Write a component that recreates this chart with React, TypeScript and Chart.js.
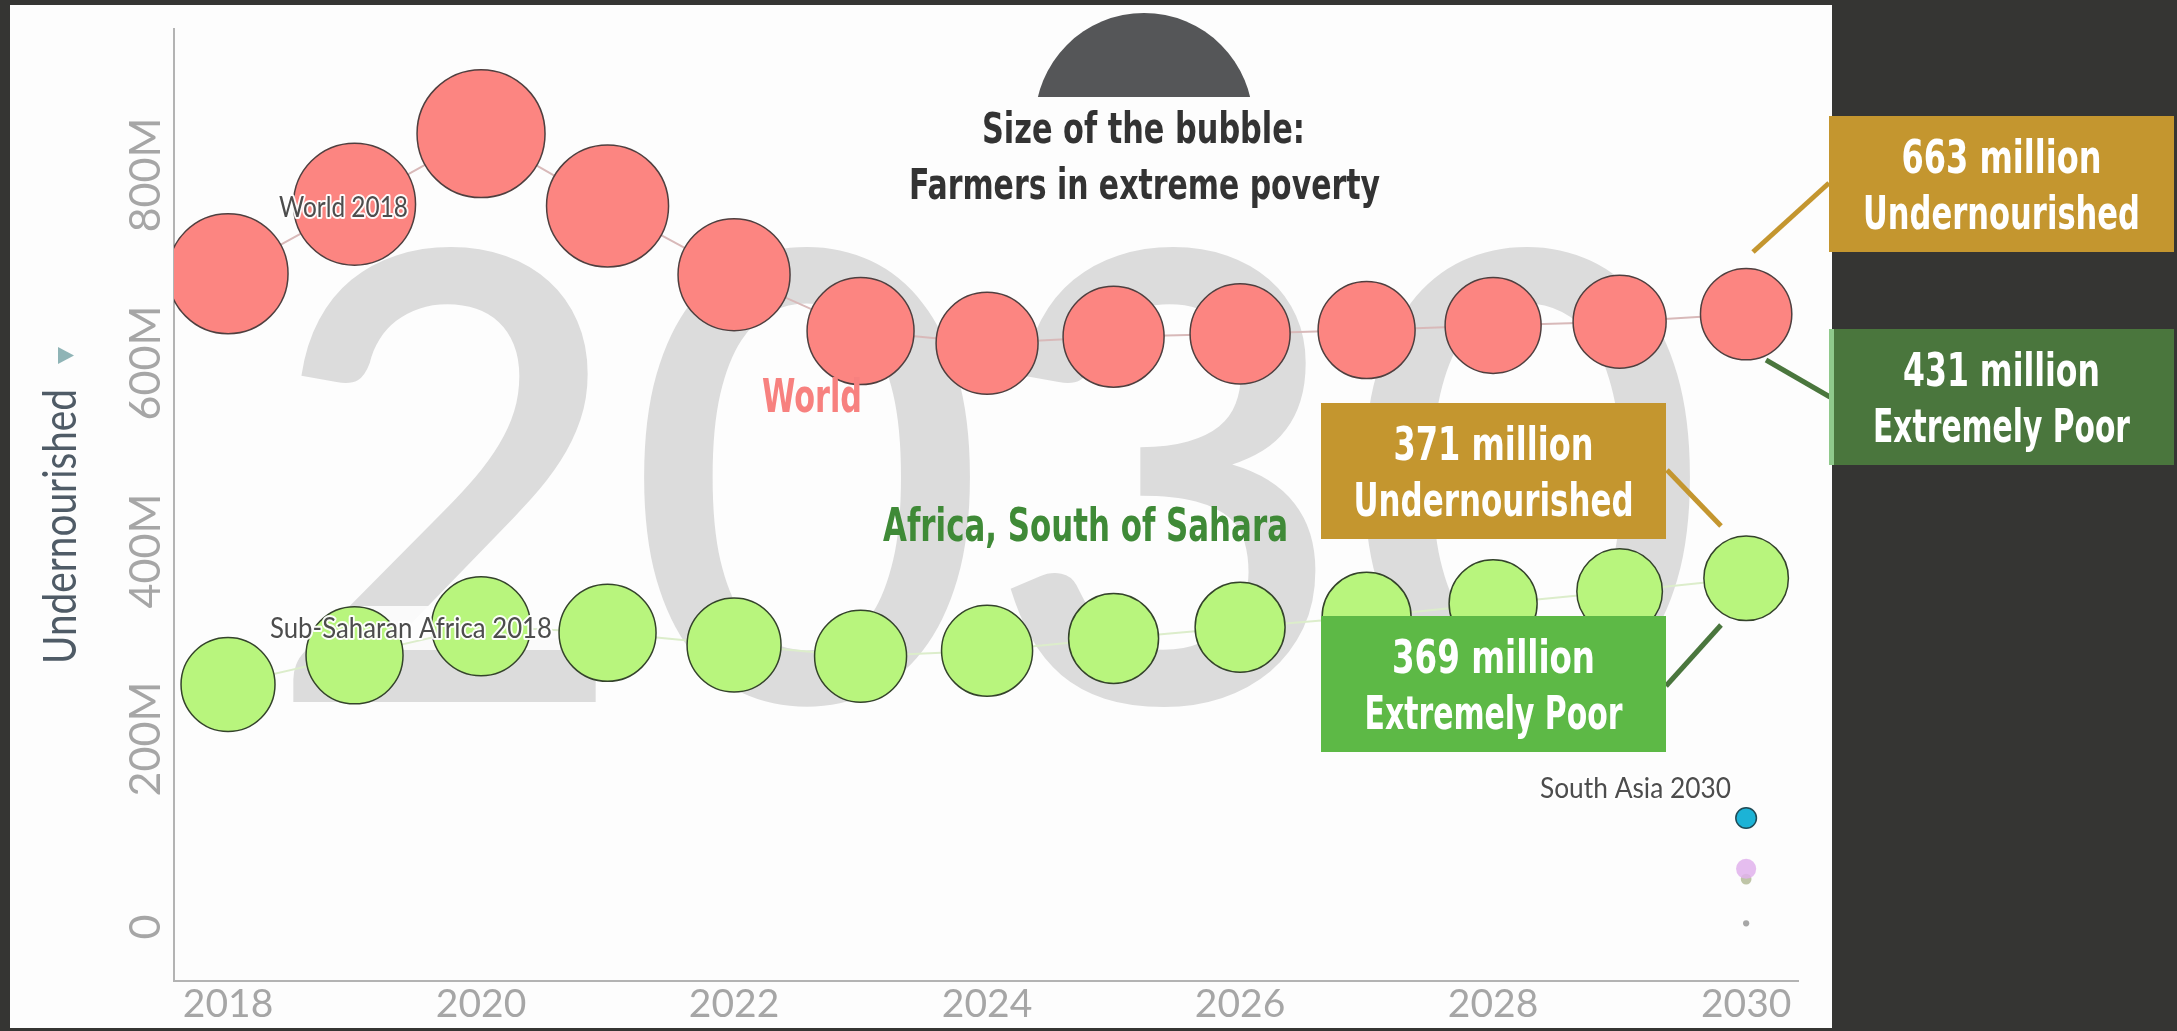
import React, { useEffect, useRef } from 'react';
import { Chart, registerables } from 'chart.js';

Chart.register(...registerables);

// ---------------- DATA ----------------
const YEARS = [2018, 2019, 2020, 2021, 2022, 2023, 2024, 2025, 2026, 2027, 2028, 2029, 2030];
// Undernourished people (millions) – y axis
const WORLD_UNDERNOURISHED_M = [695, 769, 844, 767, 694, 634, 621, 628, 631, 635, 640, 644, 652];
const AFRICA_UNDERNOURISHED_M = [258, 289, 320, 313, 300, 288, 294, 307, 319, 330, 344, 357, 371];
// Farmers in extreme poverty (millions) – bubble size
const WORLD_POVERTY_M = [744, 769, 846, 769, 648, 591, 537, 527, 517, 486, 476, 447, 431];
const AFRICA_POVERTY_M = [456, 486, 506, 486, 456, 437, 428, 418, 418, 409, 400, 378, 369];
// Other regions, 2030 only
const OTHER_REGIONS = ['South Asia', 'Other region A', 'Other region B', 'Other region C'];
const OTHER_YEAR = 2030;
const OTHER_UNDERNOURISHED_M = [116, 62, 51, 4];
const OTHER_POVERTY_M = [22, 21, 6, 2];

const X_TICKS = [2018, 2020, 2022, 2024, 2026, 2028, 2030];
const X_TICK_LABELS = ['2018', '2020', '2022', '2024', '2026', '2028', '2030'];
const Y_TICKS_M = [0, 200, 400, 600, 800];
const Y_TICK_LABELS = ['0', '200M', '400M', '600M', '800M'];

const AXIS_TITLE = 'Undernourished';
const WATERMARK = '2030';
const TITLE_LINES = ['Size of the bubble:', 'Farmers in extreme poverty'];
const ANNOTATIONS = [
  ['663 million', 'Undernourished'],
  ['431 million', 'Extremely Poor'],
  ['371 million', 'Undernourished'],
  ['369 million', 'Extremely Poor'],
];

// ---------------- STYLE ----------------
const RADIUS_PER_SQRT_M = 2.2;
const radius = (v: number) => RADIUS_PER_SQRT_M * Math.sqrt(v);
const COND = "'Liberation Sans Narrow', 'DejaVu Sans Condensed', 'Arial Narrow', sans-serif";
const GOLD = '#c4962f';
const DKGREEN = '#4a763d';
const LTGREEN = '#5db946';

function fitText(
  ctx: CanvasRenderingContext2D,
  text: string,
  cx: number,
  baseline: number,
  width: number,
  font: string,
  color: string,
  halo = 0,
  rotate = 0
) {
  ctx.save();
  ctx.font = font;
  const w = ctx.measureText(text).width;
  ctx.translate(cx, baseline);
  if (rotate) ctx.rotate(rotate);
  ctx.scale(width / w, 1);
  ctx.textAlign = 'center';
  ctx.textBaseline = 'alphabetic';
  if (halo) {
    ctx.lineJoin = 'round';
    ctx.lineWidth = halo;
    ctx.strokeStyle = 'rgba(255,255,255,0.95)';
    ctx.strokeText(text, 0, 0);
  }
  ctx.fillStyle = color;
  ctx.fillText(text, 0, 0);
  ctx.restore();
}

const noScalePadding = (s: any) => {
  s.paddingTop = 0;
  s.paddingBottom = 0;
  s.paddingLeft = 0;
  s.paddingRight = 0;
};

const decorPlugin = {
  id: 'decor',
  beforeDraw(chart: any) {
    const ctx = chart.ctx as CanvasRenderingContext2D;
    ctx.save();
    ctx.fillStyle = '#353533';
    ctx.fillRect(0, 0, chart.width, chart.height);
    ctx.fillStyle = '#fdfdfd';
    ctx.fillRect(10, 5, 1822, 1023);
    ctx.restore();
  },
  beforeDatasetsDraw(chart: any) {
    const ctx = chart.ctx as CanvasRenderingContext2D;
    // watermark year
    fitText(ctx, WATERMARK, 987, 702, 1440, "600 625px Lato", '#dcdcdc');
    // soft label background behind "Sub-Saharan Africa 2018"
    ctx.save();
    ctx.fillStyle = 'rgba(253,253,253,0.9)';
    ctx.fillRect(262, 606, 298, 44);
    ctx.restore();

    // bubble-size legend dome
    ctx.save();
    ctx.beginPath();
    ctx.rect(900, 0, 500, 97);
    ctx.clip();
    ctx.beginPath();
    ctx.arc(1144, 122, 109, 0, Math.PI * 2);
    ctx.fillStyle = '#555658';
    ctx.fill();
    ctx.restore();

    fitText(ctx, TITLE_LINES[0], 1143.5, 143, 323, `bold 43px ${COND}`, '#333333');
    fitText(ctx, TITLE_LINES[1], 1144.5, 199, 471, `bold 43px ${COND}`, '#333333');

    // axis title
    fitText(ctx, AXIS_TITLE, 76, 526.5, 275, "400 46px Lato", '#4f5b66', 0, -Math.PI / 2);
    ctx.save();
    ctx.beginPath();
    ctx.moveTo(58, 347);
    ctx.lineTo(58, 364);
    ctx.lineTo(74, 355.5);
    ctx.closePath();
    ctx.fillStyle = '#8fb4b6';
    ctx.fill();
    ctx.restore();

    fitText(ctx, 'Africa, South of Sahara', 1085.5, 541, 405, `bold 46px ${COND}`, '#3f8a37');
  },
  afterDatasetsDraw(chart: any) {
    const ctx = chart.ctx as CanvasRenderingContext2D;
    fitText(ctx, 'World', 812, 412, 100, `bold 46px ${COND}`, '#f7817f');
    fitText(ctx, 'World 2018', 343.5, 217, 129, "400 28px Lato", '#4d4d4d', 4);
    fitText(ctx, 'Sub-Saharan Africa 2018', 411, 638, 282, "400 28px Lato", '#4d4d4d', 4);
    fitText(ctx, `${OTHER_REGIONS[0]} ${OTHER_YEAR}`, 1635.5, 798, 191, "400 28px Lato", '#4d4d4d', 4);
  },
  afterDraw(chart: any) {
    const ctx = chart.ctx as CanvasRenderingContext2D;
    const line = (x1: number, y1: number, x2: number, y2: number, c: string) => {
      ctx.save();
      ctx.strokeStyle = c;
      ctx.lineWidth = 5;
      ctx.beginPath();
      ctx.moveTo(x1, y1);
      ctx.lineTo(x2, y2);
      ctx.stroke();
      ctx.restore();
    };
    line(1753, 252, 1829, 183, GOLD);
    line(1766, 360, 1830, 397, DKGREEN);
    line(1667, 470, 1721, 526, GOLD);
    line(1666, 686, 1721, 625, DKGREEN);

    const boxes = [
      { x: 1829, y: 116, c: GOLD, w1: 200, w2: 277 },
      { x: 1829, y: 329, c: DKGREEN, w1: 197, w2: 257 },
      { x: 1321, y: 403, c: GOLD, w1: 200, w2: 280 },
      { x: 1321, y: 616, c: LTGREEN, w1: 203, w2: 258 },
    ];
    boxes.forEach((b, i) => {
      ctx.save();
      ctx.fillStyle = b.c;
      ctx.fillRect(b.x, b.y, 345, 136);
      if (i === 1) {
        ctx.fillStyle = '#8fc98b';
        ctx.fillRect(b.x, b.y, 5, 136);
      }
      ctx.restore();
      const cx = b.x + 172.5;
      fitText(ctx, ANNOTATIONS[i][0], cx, b.y + 57, b.w1, `bold 46px ${COND}`, '#ffffff');
      fitText(ctx, ANNOTATIONS[i][1], cx, b.y + 113, b.w2, `bold 46px ${COND}`, '#ffffff');
    });
  },
};

export default function App() {
  const ref = useRef<HTMLCanvasElement | null>(null);

  useEffect(() => {
    if (!ref.current) return;
    const pts = (ys: number[], sizes?: number[]) =>
      YEARS.map((x, i) => (sizes ? { x, y: ys[i], r: radius(sizes[i]) } : { x, y: ys[i] }));

    const otherColors = [
      { bg: '#1cb3d6', bd: '#1f4b57', bw: 1.5 },
      { bg: 'rgba(224,178,236,0.85)', bd: 'rgba(0,0,0,0)', bw: 0 },
      { bg: 'rgba(150,160,110,0.6)', bd: 'rgba(0,0,0,0)', bw: 0 },
      { bg: 'rgba(130,130,130,0.7)', bd: 'rgba(0,0,0,0)', bw: 0 },
    ];

    const chart = new Chart(ref.current, {
      type: 'bubble',
      data: {
        datasets: [
          {
            type: 'line',
            label: 'World trail',
            data: pts(WORLD_UNDERNOURISHED_M) as any,
            borderColor: '#d8b9b9',
            borderWidth: 2,
            pointRadius: 0,
            order: 5,
          } as any,
          {
            type: 'line',
            label: 'Africa trail',
            data: pts(AFRICA_UNDERNOURISHED_M) as any,
            borderColor: '#dcedcb',
            borderWidth: 2,
            pointRadius: 0,
            order: 5,
          } as any,
          {
            label: 'World',
            data: pts(WORLD_UNDERNOURISHED_M, WORLD_POVERTY_M) as any,
            backgroundColor: '#fc8581',
            borderColor: '#4f3f3f',
            borderWidth: 1.5,
            order: 2,
            clip: 0,
          } as any,
          {
            label: 'Africa, South of Sahara',
            data: pts(AFRICA_UNDERNOURISHED_M, AFRICA_POVERTY_M) as any,
            backgroundColor: '#b8f57d',
            borderColor: '#34432b',
            borderWidth: 1.5,
            order: 2,
            clip: 0,
          } as any,
          ...OTHER_REGIONS.map((name, i) => ({
            label: name,
            data: [{ x: OTHER_YEAR, y: OTHER_UNDERNOURISHED_M[i], r: radius(OTHER_POVERTY_M[i]) }],
            backgroundColor: otherColors[i].bg,
            borderColor: otherColors[i].bd,
            borderWidth: otherColors[i].bw,
            order: 1,
            clip: 0,
          })) as any,
        ],
      },
      options: {
        responsive: false,
        animation: false,
        devicePixelRatio: 1,
        events: [],
        layout: { autoPadding: false, padding: { top: 29, right: 379, left: 0, bottom: 0 } },
        plugins: {
          legend: { display: false },
          tooltip: { enabled: false },
          title: { display: false },
        },
        scales: {
          x: {
            type: 'linear',
            min: 2017.573,
            max: 2030.41,
            afterBuildTicks: (s: any) => {
              s.ticks = X_TICKS.map((v) => ({ value: v }));
            },
            afterFit: (s: any) => {
              s.height = 50;
              noScalePadding(s);
            },
            grid: { display: false, drawTicks: false },
            border: { display: true, color: '#b3b3b3', width: 2 },
            ticks: {
              autoSkip: false,
              maxRotation: 0,
              padding: 0,
              color: '#a6a6a6',
              font: { family: 'Lato', size: 39, weight: '400' },
              callback: (_v: any, i: number) => X_TICK_LABELS[i],
            },
          },
          y: {
            type: 'linear',
            min: -57.4,
            max: 955.3,
            afterBuildTicks: (s: any) => {
              s.ticks = Y_TICKS_M.map((v) => ({ value: v }));
            },
            afterFit: (s: any) => {
              s.width = 174;
              noScalePadding(s);
            },
            grid: { display: false, drawTicks: false },
            border: { display: true, color: '#b3b3b3', width: 2 },
            ticks: {
              autoSkip: false,
              minRotation: 90,
              maxRotation: 90,
              crossAlign: 'center',
              padding: -29.5,
              color: '#a6a6a6',
              font: { family: 'Lato', size: 43, weight: '400' },
              callback: (_v: any, i: number) => Y_TICK_LABELS[i],
            },
          },
        },
      } as any,
      plugins: [decorPlugin],
    });
    return () => chart.destroy();
  }, []);

  return (
    <div style={{ position: 'absolute', left: 0, top: 0, width: 2177, height: 1031 }}>
      <canvas ref={ref} width={2177} height={1031} style={{ display: 'block', width: 2177, height: 1031 }} />
    </div>
  );
}
